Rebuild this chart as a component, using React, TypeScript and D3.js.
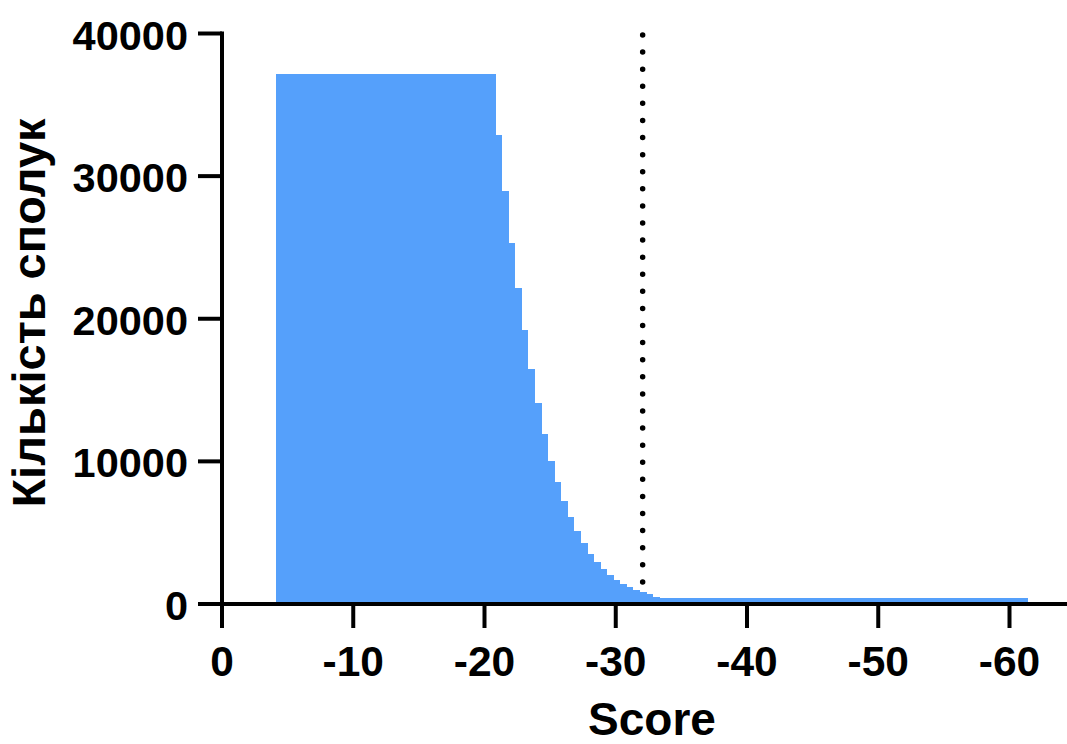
import * as d3 from "d3"

// histogram bins (score), left edge of first bin to right edge of last
const binEdges = [
  -4.15, -20.85, -21.35, -21.85, -22.35, -22.85, -23.35, -23.85, -24.35, -24.85, -25.35,
  -25.85, -26.35, -26.85, -27.35, -27.85, -28.35, -28.85, -29.35, -29.85, -30.35, -30.85,
  -31.35, -31.85, -32.35, -32.85, -33.35, -33.85, -61.4,
]
const binCounts = [
  37150, 32880, 28980, 25290, 22135, 19190, 16480, 14090, 11920, 10030, 8550, 7220, 6080,
  5120, 4260, 3510, 2920, 2430, 2030, 1680, 1380, 1170, 980, 820, 680, 510, 440, 400,
]
const xTicks = [0, -10, -20, -30, -40, -50, -60]
const yTicks = [0, 10000, 20000, 30000, 40000]
const cutoff = -32.05

const W = 1067
const H = 744
const FONT = "'Liberation Sans', Arial, Helvetica, sans-serif"
const BAR = "#55a0fb"

export default function App() {
  const x = d3.scaleLinear().domain([0, -60]).range([222, 1009.5])
  const y = d3.scaleLinear().domain([0, 40000]).range([604, 33.5])

  const bins = binCounts.map((c, i) => ({ x0: binEdges[i], x1: binEdges[i + 1], count: c }))

  return (
    <svg
      width={W}
      height={H}
      style={{ position: "absolute", left: 0, top: 0, background: "#fff" }}
      fontFamily={FONT}
    >
      {/* bars */}
      <g shapeRendering="crispEdges">
        {bins.map((b, i) => (
          <rect
            key={i}
            x={x(b.x0)}
            width={x(b.x1) - x(b.x0)}
            y={y(b.count)}
            height={y(0) - y(b.count)}
            fill={BAR}
          />
        ))}
      </g>

      {/* cutoff line */}
      <line
        x1={x(cutoff)}
        x2={x(cutoff)}
        y1={35}
        y2={582.2}
        stroke="#000"
        strokeWidth={5.5}
        strokeLinecap="round"
        strokeDasharray="0 17.09"
      />

      {/* y axis */}
      <line x1={x(0)} x2={x(0)} y1={y(40000) - 2} y2={y(0)} stroke="#000" strokeWidth={4} />
      {yTicks.map((t) => (
        <g key={t}>
          <line x1={x(0) - 24} x2={x(0)} y1={y(t)} y2={y(t)} stroke="#000" strokeWidth={4} />
          <text
            x={188}
            y={y(t) + 16}
            textAnchor="end"
            fontSize={41.5}
            fontWeight="bold"
            fill="#000"
          >
            {t}
          </text>
        </g>
      ))}

      {/* x axis */}
      <line x1={x(0) - 2} x2={W} y1={y(0)} y2={y(0)} stroke="#000" strokeWidth={4} />
      {xTicks.map((t) => (
        <g key={t}>
          <line x1={x(t)} x2={x(t)} y1={y(0)} y2={y(0) + 24} stroke="#000" strokeWidth={4} />
          <text x={x(t)} y={676} textAnchor="middle" fontSize={42.5} fontWeight="bold" fill="#000">
            {t === 0 ? "0" : `-${Math.abs(t)}`}
          </text>
        </g>
      ))}

      {/* axis titles */}
      <text x={652} y={735} textAnchor="middle" fontSize={46} fontWeight="bold" fill="#000">
        Score
      </text>
      <text
        transform="translate(45,313) rotate(-90)"
        textAnchor="middle"
        fontSize={47}
        fontWeight="bold"
        fill="#000"
      >
        Кількість сполук
      </text>
    </svg>
  )
}
